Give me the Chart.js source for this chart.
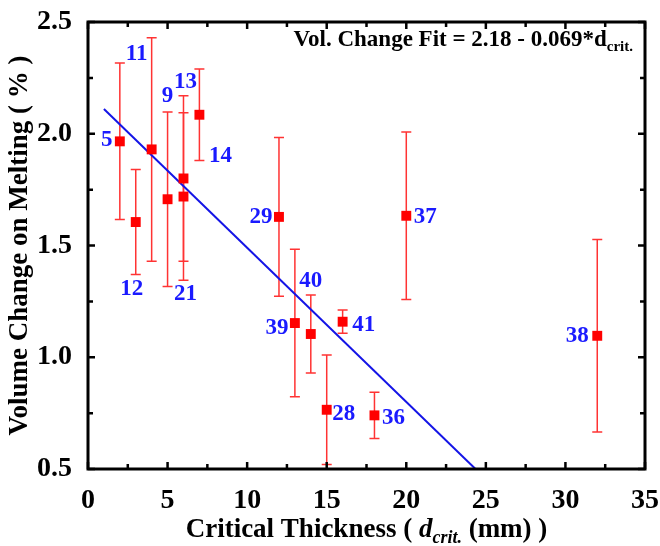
<!DOCTYPE html>
<html>
<head>
<meta charset="utf-8">
<script src="https://cdn.jsdelivr.net/npm/chart.js@4.4.1/dist/chart.umd.min.js"></script>
<style>
  html, body { margin: 0; padding: 0; background: #fff; }
  #wrap { width: 660px; height: 546px; }
</style>
</head>
<body>
<div id="wrap"><canvas id="volChart" width="660" height="546"></canvas></div>
<script>
// data
const dCrit = [2, 3, 4, 5, 6, 6, 7, 12, 13, 14, 15, 16, 18, 20, 32];
const volChange = [1.966, 1.605, 1.930, 1.707, 1.800, 1.719, 2.085, 1.628, 1.153, 1.104, 0.765, 1.159, 0.740, 1.633, 1.096];
const volErr = [0.35, 0.235, 0.50, 0.39, 0.37, 0.375, 0.205, 0.355, 0.33, 0.175, 0.245, 0.052, 0.103, 0.375, 0.431];
const sampleIds = ["5", "12", "11", "9", "13", "21", "14", "29", "39", "40", "28", "41", "36", "37", "38"];
const fitX = [1, 24.35];
const fitY = [2.111, 0.5];
const xTickValues = [0, 5, 10, 15, 20, 25, 30, 35];
const yTickValues = [0.5, 1.0, 1.5, 2.0, 2.5];

// where each sample number sits relative to its marker (px)
const labelOffsets = [
  [-13, -1], [-4, 67], [-15, -95], [0, -103], [2, -96], [2, 98], [21, 41], [-18, 0],
  [-18, 5], [0, -53], [17, 4], [21, 3], [19, 3], [19, 1], [-20, 0]
];

const SERIF = "'Liberation Serif', 'Times New Roman', serif";
Chart.defaults.font.family = SERIF;
Chart.defaults.color = "#000";

const plotDecor = {
  id: "plotDecor",
  beforeDatasetsDraw(chart) {
    // error bars
    const { ctx } = chart;
    const xs = chart.scales.x, ys = chart.scales.y;
    ctx.save();
    ctx.strokeStyle = "#ff3333";
    ctx.lineWidth = 1.5;
    dCrit.forEach((d, i) => {
      const px = xs.getPixelForValue(d);
      const top = ys.getPixelForValue(volChange[i] + volErr[i]);
      const bot = ys.getPixelForValue(volChange[i] - volErr[i]);
      ctx.beginPath();
      ctx.moveTo(px, top); ctx.lineTo(px, bot);
      ctx.moveTo(px - 5, top); ctx.lineTo(px + 5, top);
      ctx.moveTo(px - 5, bot); ctx.lineTo(px + 5, bot);
      ctx.stroke();
    });
    ctx.restore();
  },
  afterDatasetsDraw(chart) {
    const { ctx, chartArea } = chart;
    const xs = chart.scales.x, ys = chart.scales.y;
    ctx.save();
    // sample labels
    ctx.fillStyle = "#1a1aff";
    ctx.font = "bold 23px " + SERIF;
    ctx.textAlign = "center";
    ctx.textBaseline = "middle";
    sampleIds.forEach((id, i) => {
      const px = xs.getPixelForValue(dCrit[i]);
      const py = ys.getPixelForValue(volChange[i]);
      ctx.fillText(id, px + labelOffsets[i][0], py + labelOffsets[i][1]);
    });

    // frame
    ctx.strokeStyle = "#000";
    ctx.lineWidth = 3;
    ctx.strokeRect(chartArea.left, chartArea.top, chartArea.right - chartArea.left, chartArea.bottom - chartArea.top);

    // inward ticks, mirrored on top and right
    ctx.lineWidth = 2.5;
    ctx.beginPath();
    for (let v = 0; v <= 35; v += 2.5) {
      const px = xs.getPixelForValue(v);
      const len = v % 5 === 0 ? 7 : 5;
      ctx.moveTo(px, chartArea.bottom); ctx.lineTo(px, chartArea.bottom - len);
      ctx.moveTo(px, chartArea.top); ctx.lineTo(px, chartArea.top + len);
    }
    for (let v = 0.5; v <= 2.5001; v += 0.25) {
      const py = ys.getPixelForValue(v);
      const len = Math.abs(v * 2 - Math.round(v * 2)) < 1e-6 ? 7 : 5;
      ctx.moveTo(chartArea.left, py); ctx.lineTo(chartArea.left + len, py);
      ctx.moveTo(chartArea.right, py); ctx.lineTo(chartArea.right - len, py);
    }
    ctx.stroke();

    // fit annotation
    ctx.fillStyle = "#000";
    ctx.textAlign = "left";
    ctx.textBaseline = "alphabetic";
    const mainFont = "bold 23px " + SERIF;
    const subFont = "bold 15px " + SERIF;
    const mainTxt = "Vol. Change Fit = 2.18 - 0.069*d";
    const subTxt = "crit.";
    ctx.font = mainFont;
    const w1 = ctx.measureText(mainTxt).width;
    ctx.font = subFont;
    const w2 = ctx.measureText(subTxt).width;
    const ax = chartArea.right - 12 - w1 - w2;
    const ay = chartArea.top + 24;
    ctx.font = mainFont;
    ctx.fillText(mainTxt, ax, ay);
    ctx.font = subFont;
    ctx.fillText(subTxt, ax + w1, ay + 5);

    // x axis title with italic subscript
    const parts = [
      { t: "Critical Thickness ( ", f: "bold 27px " + SERIF, dy: 0 },
      { t: "d", f: "italic bold 27px " + SERIF, dy: 0 },
      { t: "crit.", f: "italic bold 18px " + SERIF, dy: 6 },
      { t: " (mm) )", f: "bold 27px " + SERIF, dy: 0 }
    ];
    let total = 0;
    parts.forEach(p => { ctx.font = p.f; p.w = ctx.measureText(p.t).width; total += p.w; });
    let tx = (chartArea.left + chartArea.right) / 2 - total / 2;
    const ty = 537;
    parts.forEach(p => {
      ctx.font = p.f;
      ctx.fillText(p.t, tx, ty + p.dy);
      tx += p.w;
    });
    ctx.restore();
  }
};

const ctx = document.getElementById("volChart").getContext("2d");
new Chart(ctx, {
  type: "scatter",
  data: {
    datasets: [
      {
        label: "Volume change",
        data: dCrit.map((d, i) => ({ x: d, y: volChange[i] })),
        pointStyle: "rect",
        pointRadius: 7,
        pointHoverRadius: 7,
        backgroundColor: "#ff0000",
        borderColor: "#ff0000",
        borderWidth: 0
      },
      {
        label: "Fit",
        type: "line",
        data: fitX.map((x, i) => ({ x: x, y: fitY[i] })),
        borderColor: "#1414e6",
        borderWidth: 2,
        pointRadius: 0,
        fill: false
      }
    ]
  },
  options: {
    responsive: false,
    animation: false,
    layout: { padding: { left: 0, top: 22, right: 15, bottom: 0 } },
    plugins: { legend: { display: false }, tooltip: { enabled: false } },
    scales: {
      x: {
        type: "linear",
        min: 0,
        max: 35,
        grid: { display: false },
        border: { display: false },
        afterBuildTicks: (scale) => { scale.ticks = xTickValues.map(v => ({ value: v })); },
        afterFit: (scale) => {
          scale.height = 77;
          scale.paddingLeft = 0;
          scale.paddingRight = 0;
        },
        ticks: {
          padding: 7,
          maxRotation: 0,
          font: { size: 28, weight: "bold" },
          callback: (v) => String(v)
        }
      },
      y: {
        type: "linear",
        min: 0.5,
        max: 2.5,
        grid: { display: false },
        border: { display: false },
        afterBuildTicks: (scale) => { scale.ticks = yTickValues.map(v => ({ value: v })); },
        afterFit: (scale) => {
          scale.width = 88;
          scale.paddingTop = 0;
          scale.paddingBottom = 0;
        },
        title: {
          display: true,
          text: "Volume Change on Melting ( % )",
          font: { size: 27, weight: "bold" },
          padding: { top: 4, bottom: 0 }
        },
        ticks: {
          padding: 8,
          font: { size: 28, weight: "bold" },
          callback: (v) => Number(v).toFixed(1)
        }
      }
    }
  },
  plugins: [plotDecor]
});
</script>
</body>
</html>
